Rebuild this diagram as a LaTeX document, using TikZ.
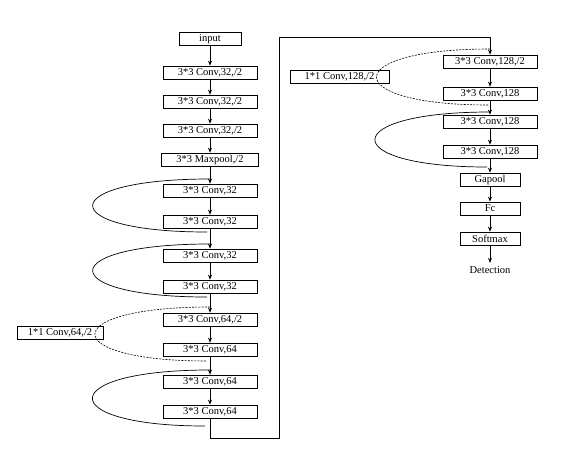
\documentclass[tikz,border=0pt]{standalone}
\usepackage{fontspec}
\setmainfont{Liberation Serif}
\usetikzlibrary{arrows.meta, positioning}

\tikzset{
  layer/.style={draw, line width=0.7pt, minimum width=94pt, minimum height=13pt, inner sep=0pt, font=\fontsize{10.5}{12}\selectfont},
  flow/.style={-{Stealth[length=5pt, width=4pt]}, line width=0.7pt},
  skip/.style={line width=0.7pt},
  short/.style={line width=0.6pt, dash pattern=on 2pt off 1.2pt},
}

\begin{document}
\begin{tikzpicture}[x=1pt, y=-1pt]
\useasboundingbox (0,0) rectangle (576,464);
\def\xl{210}
\def\xr{490}

% left column
\node[layer, minimum width=62pt] (in) at (\xl,39) {input};
\node[layer] (c1) at (\xl,72.5) {3*3 Conv,32,/2};
\node[layer] (c2) at (\xl,101.5) {3*3 Conv,32,/2};
\node[layer] (c3) at (\xl,130.5) {3*3 Conv,32,/2};
\node[layer, minimum width=97pt] (mp) at (\xl,159.5) {3*3 Maxpool,/2};
\node[layer] (c4) at (\xl,190.5) {3*3 Conv,32};
\node[layer] (c5) at (\xl,221.5) {3*3 Conv,32};
\node[layer] (c6) at (\xl,255.5) {3*3 Conv,32};
\node[layer] (c7) at (\xl,286.5) {3*3 Conv,32};
\node[layer] (c8) at (\xl,319.5) {3*3 Conv,64,/2};
\node[layer, minimum width=86pt] (p1) at (60,333) {1*1 Conv,64,/2};
\node[layer] (c9) at (\xl,349.5) {3*3 Conv,64};
\node[layer] (c10) at (\xl,381.5) {3*3 Conv,64};
\node[layer] (c11) at (\xl,411.5) {3*3 Conv,64};

% right column
\node[layer] (r1) at (\xr,61.5) {3*3 Conv,128,/2};
\node[layer, minimum width=99pt] (p2) at (339.5,76.5) {1*1 Conv,128,/2};
\node[layer] (r2) at (\xr,93.5) {3*3 Conv,128};
\node[layer] (r3) at (\xr,121.5) {3*3 Conv,128};
\node[layer] (r4) at (\xr,151.5) {3*3 Conv,128};
\node[layer, minimum width=60pt] (gp) at (\xr,179.5) {Gapool};
\node[layer, minimum width=60pt] (fc) at (\xr,208.5) {Fc};
\node[layer, minimum width=60pt] (sm) at (\xr,238.5) {Softmax};
\node[font=\fontsize{10.5}{12}\selectfont] (det) at (\xr,270) {Detection};

\foreach \a/\b in {in/c1, c1/c2, c2/c3, c3/mp, mp/c4, c4/c5, c5/c6, c6/c7, c7/c8, c8/c9, c9/c10, c10/c11,
                   r1/r2, r2/r3, r3/r4, r4/gp, gp/fc, fc/sm, sm/det}
  \draw[flow] (\a) -- (\b);

% bridge between the columns
\coordinate (bendA) at (279,438);
\coordinate (bendB) at (\xr,37);
\draw[flow] (c11) |- (bendA) |- (bendB) -- (r1);

% shortcut ends
\coordinate (k1a) at (\xl,179);
\coordinate (k1b) at (207,232);
\coordinate (k2a) at (\xl,244);
\coordinate (k2b) at (207,297);
\coordinate (k3a) at (\xl,307);
\coordinate (k3b) at (207,361);
\coordinate (k4a) at (\xl,370);
\coordinate (k4b) at (205,426);
\coordinate (k5a) at (\xr,49);
\coordinate (k5b) at (488,105);
\coordinate (k6a) at (\xr,112);
\coordinate (k6b) at (487,167);

\draw[skip] (k1a) .. controls (54,179) and (54,232) .. (k1b);
\draw[skip] (k2a) .. controls (54,244) and (54,297) .. (k2b);
\draw[short] (k3a) .. controls (57,307) and (57,361) .. (k3b);
\draw[skip] (k4a) .. controls (54,370) and (54,426) .. (k4b);
\draw[short] (k5a) .. controls (339,49) and (339,105) .. (k5b);
\draw[skip] (k6a) .. controls (337,112) and (337,167) .. (k6b);
\end{tikzpicture}
\end{document}
